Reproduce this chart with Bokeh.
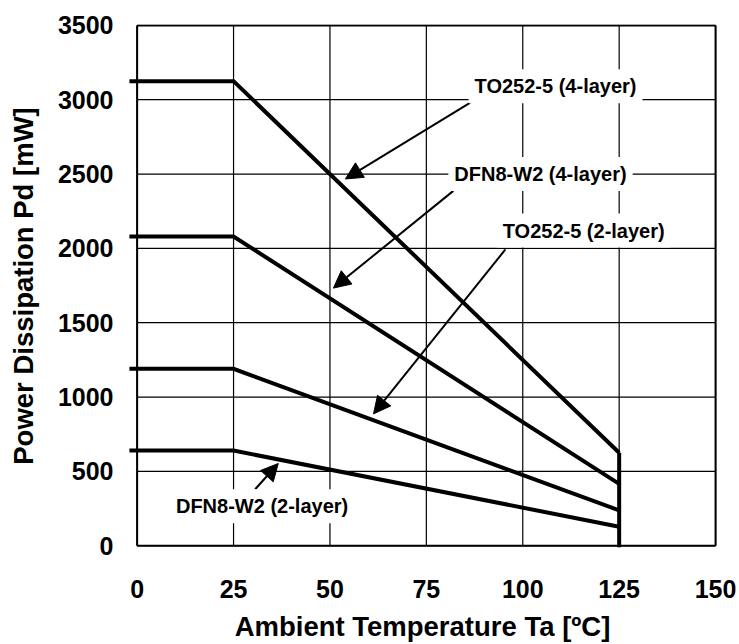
from bokeh.plotting import figure
from bokeh.models import Range1d, FixedTicker, Label, Arrow, NormalHead
from bokeh.embed import file_html
from bokeh.resources import INLINE

# ---- data ----
ta = [-2, 25, 125]
to252_4layer = [3125, 3125, 625]
dfn8_4layer = [2080, 2080, 416]
to252_2layer = [1190, 1190, 238]
dfn8_2layer = [640, 640, 128]
cutoff_ta = 125
cutoff_top = 625
cutoff_bottom = -12

x_ticks = [0, 25, 50, 75, 100, 125, 150]
y_ticks = [0, 500, 1000, 1500, 2000, 2500, 3000, 3500]

labels = ["TO252-5 (4-layer)", "DFN8-W2 (4-layer)", "TO252-5 (2-layer)", "DFN8-W2 (2-layer)"]
label_x = [108.5, 104.6, 115.8, 32.4]
label_y = [3090, 2500, 2120, 265]
arrow_x0 = [86.4, 82.0, 95.5, 30.6]
arrow_y0 = [2980, 2387, 1993, 380]
arrow_x1 = [54.0, 50.9, 61.3, 36.6]
arrow_y1 = [2467, 1733, 887, 553]

FONT = "Liberation Sans"

p = figure(width=739, height=644,
           x_range=Range1d(-2.5, 150.5), y_range=Range1d(-12, 3506),
           output_backend="svg", toolbar_location=None,
           min_border_left=127, min_border_right=22,
           min_border_top=24, min_border_bottom=92)
p.outline_line_color = None
p.xgrid.visible = False
p.ygrid.visible = False

# grid lines from tick lists
x0, x1 = x_ticks[0], x_ticks[-1]
y0, y1 = y_ticks[0], y_ticks[-1]
p.segment(x0=x_ticks, y0=[y0] * len(x_ticks), x1=x_ticks, y1=[y1] * len(x_ticks),
          line_color="black", line_width=1.2, level="underlay")
p.segment(x0=[x0] * len(y_ticks), y0=y_ticks, x1=[x1] * len(y_ticks), y1=y_ticks,
          line_color="black", line_width=1.2, level="underlay")
# frame
p.segment(x0=[x0, x1, x0, x0], y0=[y0, y0, y0, y1], x1=[x0, x1, x1, x1], y1=[y1, y1, y0, y1],
          line_color="black", line_width=2, level="underlay")

for ys in (to252_4layer, dfn8_4layer, to252_2layer, dfn8_2layer):
    p.line(ta, ys, line_color="black", line_width=4, line_join="miter")
p.segment(x0=[cutoff_ta], y0=[cutoff_top], x1=[cutoff_ta], y1=[cutoff_bottom],
          line_color="black", line_width=4)

for xs, ys, xe, ye in zip(arrow_x0, arrow_y0, arrow_x1, arrow_y1):
    p.add_layout(Arrow(end=NormalHead(size=17, fill_color="black", line_color="black", line_width=1),
                       x_start=xs, y_start=ys, x_end=xe, y_end=ye,
                       line_color="black", line_width=2))

for t, lx, ly in zip(labels, label_x, label_y):
    p.add_layout(Label(x=lx, y=ly, text=t, text_align="center", text_baseline="middle",
                       text_font=FONT, text_font_style="bold", text_font_size="20px",
                       text_color="black", background_fill_color="white", padding=6))

for ax in (p.xaxis, p.yaxis):
    ax.axis_line_color = None
    ax.major_tick_line_color = None
    ax.minor_tick_line_color = None
    ax.major_tick_out = 0
    ax.major_tick_in = 0
    ax.major_label_text_font = FONT
    ax.major_label_text_font_style = "bold"
    ax.major_label_text_font_size = "25px"
    ax.major_label_text_color = "black"
    ax.axis_label_text_font = FONT
    ax.axis_label_text_font_style = "bold"
    ax.axis_label_text_font_size = "27.5px"
    ax.axis_label_text_color = "black"

p.xaxis.ticker = FixedTicker(ticks=x_ticks)
p.yaxis.ticker = FixedTicker(ticks=y_ticks)
p.xaxis.axis_label = "Ambient Temperature Ta [ºC]"
p.yaxis.axis_label = "Power Dissipation Pd [mW]"
p.yaxis.major_label_standoff = 14
p.yaxis.axis_label_standoff = 16
p.xaxis.major_label_standoff = 32
p.xaxis.axis_label_standoff = 10

open("out.html", "w").write(file_html(p, INLINE))
